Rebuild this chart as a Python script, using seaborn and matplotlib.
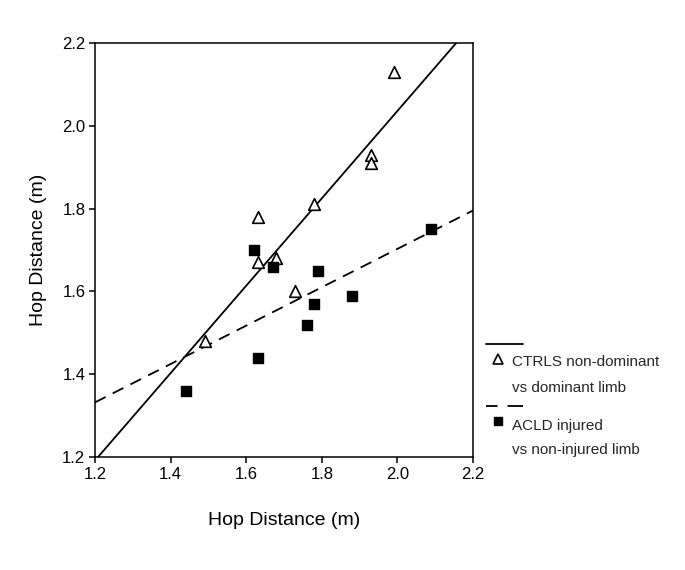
import seaborn as sns
import matplotlib.pyplot as plt
from matplotlib.lines import Line2D
import pandas as pd

# CTRLS: non-dominant vs dominant limb
ctrl_x = [1.99, 1.93, 1.93, 1.78, 1.63, 1.68, 1.63, 1.73, 1.49]
ctrl_y = [2.13, 1.93, 1.91, 1.81, 1.78, 1.68, 1.67, 1.60, 1.48]

# ACLD: injured vs non-injured limb
acld_x = [1.62, 1.67, 1.79, 1.88, 1.78, 1.76, 1.63, 2.09, 1.44]
acld_y = [1.70, 1.66, 1.65, 1.59, 1.57, 1.52, 1.44, 1.75, 1.36]

ticks = [1.2, 1.4, 1.6, 1.8, 2.0, 2.2]

ctrl = pd.DataFrame({'x': ctrl_x, 'y': ctrl_y})
acld = pd.DataFrame({'x': acld_x, 'y': acld_y})

sns.set_style("ticks")
plt.rcParams['font.family'] = ['Liberation Sans', 'DejaVu Sans']

fig = plt.figure(figsize=(6.85, 5.70), dpi=100)
ax = fig.add_axes([0.1387, 0.1982, 0.5518, 0.7264])
ax.set_xlim(1.2, 2.2)
ax.set_ylim(1.2, 2.2)

sns.regplot(x='x', y='y', data=ctrl, ax=ax, ci=None, truncate=False,
            marker='^', color='black',
            scatter_kws={'s': 70, 'facecolors': 'white', 'edgecolors': 'black',
                         'linewidths': 1.2, 'alpha': 1, 'zorder': 3},
            line_kws={'linewidth': 1.3})
sns.regplot(x='x', y='y', data=acld, ax=ax, ci=None, truncate=False,
            marker='s', color='black',
            scatter_kws={'s': 55, 'linewidths': 1.0, 'alpha': 1, 'zorder': 3},
            line_kws={'linewidth': 1.3, 'linestyle': (0, (6.6, 4.4))})

ax.set_xlim(1.2, 2.2)
ax.set_ylim(1.2, 2.2)
ax.set_xticks(ticks)
ax.set_yticks(ticks)
ax.set_xticklabels([f'{t:.1f}' for t in ticks])
ax.set_yticklabels([f'{t:.1f}' for t in ticks])
ax.tick_params(direction='out', length=4, width=1.1, labelsize=12, pad=3,
               color='black', labelcolor='black')
for s in ax.spines.values():
    s.set_visible(True)
    s.set_linewidth(1.1)
    s.set_color('black')

ax.set_xlabel('Hop Distance (m)', fontsize=14, labelpad=22, color='black')
ax.set_ylabel('Hop Distance (m)', fontsize=14, labelpad=11, color='black')

# legend drawn to the right of the axes
W, H = 685, 570


def fx(px):
    return px / W


def fy(py):
    return 1 - py / H


fig.add_artist(Line2D([fx(486), fx(523)], [fy(344), fy(344)], color='black',
                      lw=1.3, transform=fig.transFigure))
fig.add_artist(Line2D([fx(498)], [fy(359)], marker='^', markersize=7,
                      markerfacecolor='white', markeredgecolor='black',
                      markeredgewidth=1.2, linestyle='none',
                      transform=fig.transFigure))
fig.text(fx(512), fy(366), 'CTRLS non-dominant', fontsize=11, va='baseline')
fig.text(fx(512), fy(392.5), 'vs dominant limb', fontsize=11, va='baseline')

fig.add_artist(Line2D([fx(486), fx(523)], [fy(406), fy(406)], color='black',
                      lw=1.3, linestyle=(0, (6.4, 5.5, 12.3, 5.5)),
                      transform=fig.transFigure))
fig.add_artist(Line2D([fx(498)], [fy(421)], marker='s', markersize=6,
                      color='black', linestyle='none',
                      transform=fig.transFigure))
fig.text(fx(512), fy(430), 'ACLD injured', fontsize=11, va='baseline')
fig.text(fx(512), fy(454), 'vs non-injured limb', fontsize=11, va='baseline')

fig.savefig('out.png', dpi=100)
